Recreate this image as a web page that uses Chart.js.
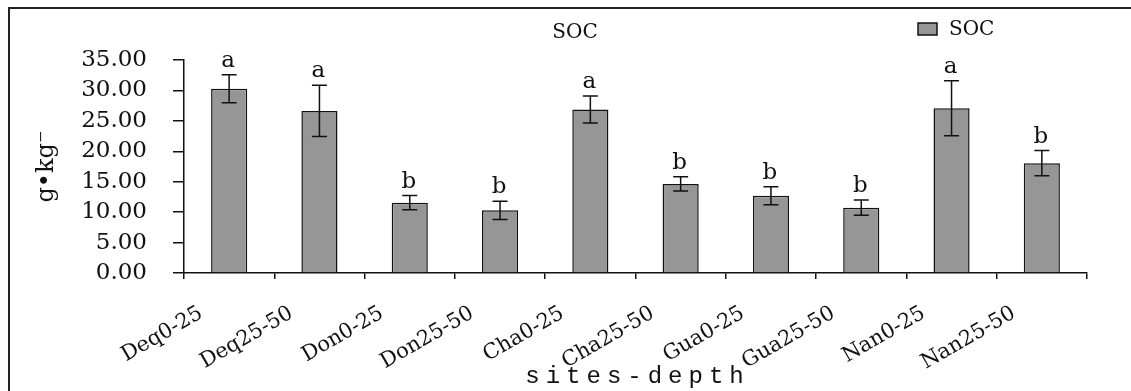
<!DOCTYPE html>
<html>
<head>
<meta charset="utf-8">
<script src="https://cdn.jsdelivr.net/npm/chart.js@4.4.1/dist/chart.umd.min.js"></script>
<style>
  body { margin: 0; background: #fff; }
  canvas { display: block; }
</style>
</head>
<body>
<canvas id="chart" width="1131" height="391"></canvas>
<script>
// sites and depths on the x axis
const sites = ['Deq0-25', 'Deq25-50', 'Don0-25', 'Don25-50', 'Cha0-25',
               'Cha25-50', 'Gua0-25', 'Gua25-50', 'Nan0-25', 'Nan25-50'];
// mean SOC (g/kg) and its error
const soc = [30.27, 26.64, 11.56, 10.31, 26.86, 14.64, 12.71, 10.74, 27.08, 18.04];
const socErr = [2.3, 4.2, 1.17, 1.5, 2.22, 1.17, 1.48, 1.25, 4.52, 2.08];
// significance letters
const letters = ['a', 'a', 'b', 'b', 'a', 'b', 'b', 'b', 'a', 'b'];

const serif = 'DejaVu Serif';

// error bars and letters on top of the bars
const errorBars = {
    id: 'errorBars',
    afterDatasetsDraw(chart) {
        const ctx = chart.ctx;
        const x = chart.scales.x;
        const y = chart.scales.y;
        ctx.save();
        ctx.strokeStyle = '#111';
        ctx.lineWidth = 1.5;
        soc.forEach((v, i) => {
            const cx = x.getPixelForValue(i);
            const top = y.getPixelForValue(v + socErr[i]);
            const bot = y.getPixelForValue(v - socErr[i]);
            ctx.beginPath();
            ctx.moveTo(cx, top); ctx.lineTo(cx, bot);
            ctx.moveTo(cx - 7.5, top); ctx.lineTo(cx + 7.5, top);
            ctx.moveTo(cx - 7.5, bot); ctx.lineTo(cx + 7.5, bot);
            ctx.stroke();
            ctx.fillStyle = '#111';
            ctx.font = '23px "' + serif + '"';
            ctx.textAlign = 'center';
            ctx.textBaseline = 'alphabetic';
            ctx.fillText(letters[i], cx - 1, top - 8);
        });
        ctx.restore();
    }
};

// frame, title, legend and x title
const decor = {
    id: 'decor',
    afterDraw(chart) {
        const ctx = chart.ctx;
        const area = chart.chartArea;
        ctx.save();
        ctx.strokeStyle = '#222';
        ctx.lineWidth = 2;
        ctx.beginPath();
        ctx.moveTo(9, 391); ctx.lineTo(9, 8); ctx.lineTo(1131, 8);
        ctx.stroke();

        ctx.fillStyle = '#111';
        ctx.textBaseline = 'middle';
        ctx.font = '20px "' + serif + '"';
        ctx.textAlign = 'center';
        ctx.fillText('SOC', 575, 33);

        // legend
        ctx.fillStyle = '#969696';
        ctx.fillRect(918, 23, 19, 12);
        ctx.lineWidth = 1.5;
        ctx.strokeStyle = '#111';
        ctx.strokeRect(918, 23, 19, 12);
        ctx.fillStyle = '#111';
        ctx.font = '20px "' + serif + '"';
        ctx.textAlign = 'left';
        ctx.fillText(chart.data.datasets[0].label, 949, 30);

        // x axis title, spaced out like the original
        ctx.font = '24px "Liberation Mono"';
        ctx.letterSpacing = '6px';
        ctx.textAlign = 'center';
        ctx.fillText('sites-depth', (area.left + area.right) / 2 + 2, 377);
        ctx.restore();
    }
};

new Chart(document.getElementById('chart'), {
    type: 'bar',
    data: {
        labels: sites,
        datasets: [{
            label: 'SOC',
            data: soc,
            backgroundColor: '#969696',
            borderColor: '#111',
            borderWidth: 1.5,
            barPercentage: 0.4,
            categoryPercentage: 1
        }]
    },
    options: {
        responsive: false,
        animation: false,
        layout: { padding: { top: 60, left: 20, right: 44, bottom: 0 } },
        plugins: {
            legend: { display: false },
            title: { display: false },
            tooltip: { enabled: false }
        },
        scales: {
            x: {
                afterFit(scale) { scale.height = 118; },
                border: { color: '#111', width: 1.5 },
                grid: { drawOnChartArea: false, tickLength: 6, color: '#111', lineWidth: 1.5, offset: true },
                ticks: {
                    color: '#111',
                    font: { family: serif, size: 21 },
                    minRotation: 30,
                    maxRotation: 30,
                    padding: 22,
                    labelOffset: -28,
                    autoSkip: false
                }
            },
            y: {
                min: 0,
                max: 35,
                afterFit(scale) { scale.width = 164; },
                border: { color: '#111', width: 1.5 },
                grid: { drawOnChartArea: false, tickLength: 11, color: '#111', lineWidth: 1.5 },
                ticks: {
                    stepSize: 5,
                    autoSkip: false,
                    color: '#111',
                    padding: 26,
                    font: { family: serif, size: 23 },
                    callback: v => v.toFixed(2)
                },
                title: {
                    display: true,
                    text: 'g•kg⁻',
                    color: '#111',
                    font: { family: serif, size: 24 },
                    padding: { top: 12, bottom: 0 }
                }
            }
        }
    },
    plugins: [errorBars, decor]
});
</script>
</body>
</html>
